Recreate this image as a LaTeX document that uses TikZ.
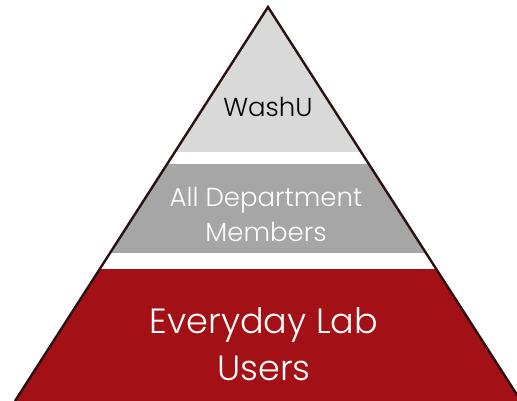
\documentclass[tikz,border=0pt]{standalone}
\usepackage{fontspec}
\setmainfont{Poppins Light}

\definecolor{topgray}{HTML}{D9D9D9}
\definecolor{midgray}{HTML}{A6A6A6}
\definecolor{labred}{HTML}{A31117}
\definecolor{edge}{HTML}{2B1010}

\begin{document}
\begin{tikzpicture}[x=1pt, y=-1pt]
\useasboundingbox (0, 0) rectangle (517, 401);

\coordinate (apex) at (268, 7);
\coordinate (left) at (15, 401);
\coordinate (right) at (521, 401);

\begin{scope}
\clip (apex) -- (left) -- (right) -- cycle;
\fill [topgray] (0, 0) rectangle (530, 152);
\fill [midgray] (0, 164) rectangle (530, 253);
\fill [labred] (0, 269) rectangle (530, 405);
\end{scope}

\draw [edge, line width=2.4pt] (left) -- (apex) -- (right);

\node (washu) [anchor=base, font=\fontsize{26}{30}\selectfont] at (268, 117) {WashU};
\node (dept1) [anchor=base, white, font=\fontsize{26}{30}\selectfont] at (266, 207) {All Department};
\node (dept2) [anchor=base, white, font=\fontsize{26}{30}\selectfont] at (266, 241) {Members};
\node (users1) [anchor=base, white, font=\fontsize{35}{40}\selectfont] at (264, 333) {Everyday Lab};
\node (users2) [anchor=base, white, font=\fontsize{35}{40}\selectfont] at (264, 380) {Users};

\end{tikzpicture}
\end{document}
